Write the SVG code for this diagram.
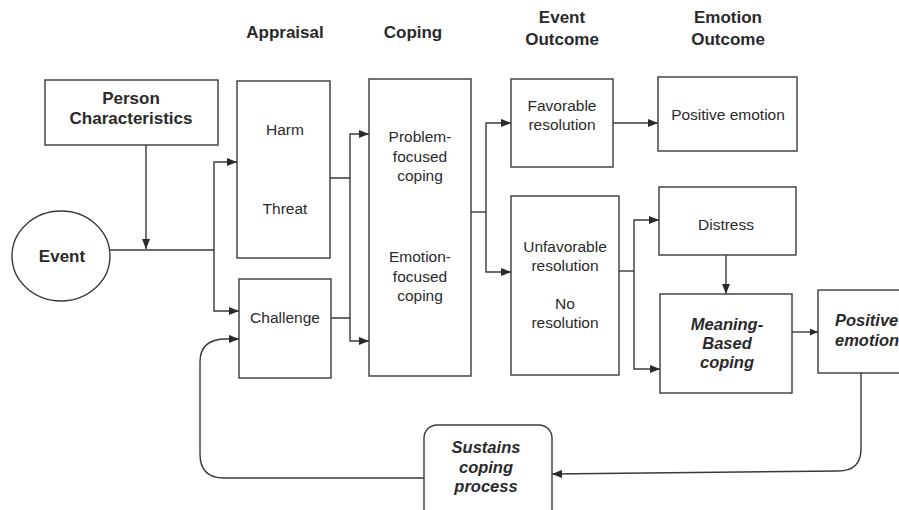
<svg xmlns="http://www.w3.org/2000/svg" width="899" height="510" viewBox="0 0 899 510">
<style>
.box{fill:#fff;stroke:#3a3a3a;stroke-width:1.4}
.ln{fill:none;stroke:#3a3a3a;stroke-width:1.4}
.hd{font-family:"Liberation Sans",Arial,sans-serif;font-weight:bold;font-size:17px;fill:#2a2a2a;text-anchor:middle}
.tx{font-family:"Liberation Sans",Arial,sans-serif;font-size:15.5px;fill:#2a2a2a;text-anchor:middle}
.bi{font-family:"Liberation Sans",Arial,sans-serif;font-weight:bold;font-style:italic;font-size:16.5px;fill:#2a2a2a;text-anchor:middle}
</style>
<defs>
<marker id="ah" markerUnits="userSpaceOnUse" markerWidth="11" markerHeight="8" refX="10" refY="4" orient="auto">
<path d="M0,0 L10,4 L0,8 z" fill="#2a2a2a"/>
</marker>
<marker id="ahs" markerUnits="userSpaceOnUse" markerWidth="9" markerHeight="7" refX="8" refY="3.5" orient="auto">
<path d="M0,0 L8,3.5 L0,7 z" fill="#2a2a2a"/>
</marker>
</defs>
<rect width="899" height="510" fill="#fff"/>
<g id="headers">
<text class="hd" x="285" y="38">Appraisal</text>
<text class="hd" x="413" y="38">Coping</text>
<text class="hd" x="562" y="23">Event</text>
<text class="hd" x="562" y="45">Outcome</text>
<text class="hd" x="728" y="23">Emotion</text>
<text class="hd" x="728" y="45">Outcome</text>
</g>
<g id="connectors">
<path class="ln" d="M146,145 V249" marker-end="url(#ah)"/>
<path class="ln" d="M110,250 H214"/>
<path class="ln" d="M214,250 V162 H237" marker-end="url(#ah)"/>
<path class="ln" d="M214,250 V311 H239" marker-end="url(#ah)"/>
<path class="ln" d="M424,478 H224 Q200,478 200,454 V362 Q200,339 226,339 H239" marker-end="url(#ah)"/>
<path class="ln" d="M330,178 H350 V134 H369" marker-end="url(#ah)"/>
<path class="ln" d="M331,318 H350 V341 H369" marker-end="url(#ah)"/>
<path class="ln" d="M350,178 V318"/>
<path class="ln" d="M471,212 H486"/>
<path class="ln" d="M486,212 V123 H511" marker-end="url(#ah)"/>
<path class="ln" d="M486,212 V272 H511" marker-end="url(#ah)"/>
<path class="ln" d="M613,123 H658" marker-end="url(#ah)"/>
<path class="ln" d="M619,271 H634"/>
<path class="ln" d="M634,271 V220 H659" marker-end="url(#ah)"/>
<path class="ln" d="M634,271 V369 H660" marker-end="url(#ah)"/>
<path class="ln" d="M726,255 V294" marker-end="url(#ah)"/>
<path class="ln" d="M792,332 H818" marker-end="url(#ahs)"/>
<path class="ln" d="M861,373 V449 Q861,471 838,471 L552,474" marker-end="url(#ah)"/>
</g>
<g id="person">
<rect class="box" x="45" y="80" width="173" height="65"/>
<text class="hd" x="131" y="104">Person</text>
<text class="hd" x="131" y="124">Characteristics</text>
</g>
<g id="event">
<ellipse class="box" cx="61" cy="256" rx="49" ry="45"/>
<text class="hd" x="62" y="262">Event</text>
</g>
<g id="harm-threat">
<rect class="box" x="237" y="81" width="93" height="177"/>
<text class="tx" x="285" y="135">Harm</text>
<text class="tx" x="285" y="214">Threat</text>
</g>
<g id="challenge">
<rect class="box" x="239" y="279" width="92" height="99"/>
<text class="tx" x="285" y="323">Challenge</text>
</g>
<g id="coping">
<rect class="box" x="369" y="79" width="102" height="297"/>
<text class="tx" x="420" y="142">Problem-</text>
<text class="tx" x="420" y="162">focused</text>
<text class="tx" x="420" y="181">coping</text>
<text class="tx" x="420" y="262">Emotion-</text>
<text class="tx" x="420" y="282">focused</text>
<text class="tx" x="420" y="301">coping</text>
</g>
<g id="favorable">
<rect class="box" x="511" y="79" width="102" height="88"/>
<text class="tx" x="562" y="111">Favorable</text>
<text class="tx" x="562" y="130">resolution</text>
</g>
<g id="unfavorable">
<rect class="box" x="511" y="196" width="108" height="179"/>
<text class="tx" x="565" y="252">Unfavorable</text>
<text class="tx" x="565" y="271">resolution</text>
<text class="tx" x="565" y="309">No</text>
<text class="tx" x="565" y="328">resolution</text>
</g>
<g id="positive-emotion">
<rect class="box" x="658" y="77" width="139" height="74"/>
<text class="tx" x="728" y="120">Positive emotion</text>
</g>
<g id="distress">
<rect class="box" x="659" y="187" width="137" height="68"/>
<text class="tx" x="726" y="230">Distress</text>
</g>
<g id="meaning">
<rect class="box" x="660" y="294" width="132" height="99"/>
<text class="bi" x="727" y="330">Meaning-</text>
<text class="bi" x="727" y="349">Based</text>
<text class="bi" x="727" y="368">coping</text>
</g>
<g id="positive-emotion-2">
<rect class="box" x="818" y="290" width="95" height="83"/>
<text class="bi" x="835" y="326" style="text-anchor:start">Positive</text>
<text class="bi" x="835" y="346" style="text-anchor:start">emotion</text>
</g>
<g id="sustains">
<rect class="box" x="424" y="425" width="128" height="100" rx="13"/>
<text class="bi" x="486" y="453">Sustains</text>
<text class="bi" x="486" y="473">coping</text>
<text class="bi" x="486" y="492">process</text>
</g>
</svg>
